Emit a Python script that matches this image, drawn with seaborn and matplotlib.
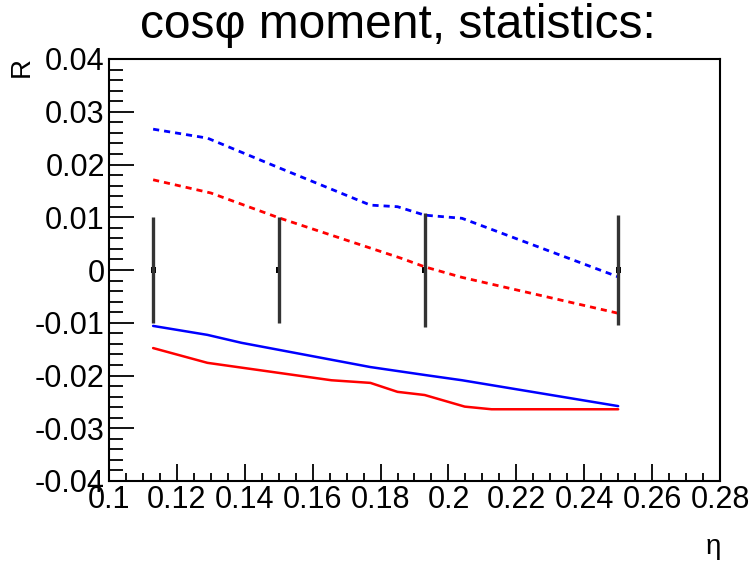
import numpy as np
import pandas as pd
import matplotlib
matplotlib.use("Agg")
import matplotlib.pyplot as plt
import seaborn as sns
from matplotlib.ticker import MultipleLocator, FixedLocator

sns.set_style("ticks")
plt.rcParams['font.family'] = ['Liberation Sans', 'DejaVu Sans']
plt.rcParams['text.color'] = 'black'
plt.rcParams['axes.labelcolor'] = 'black'

# data points with errors
pt_x = [0.113, 0.150, 0.193, 0.250]
pt_y = [0.0, 0.0, 0.0, 0.0]
pt_err = [0.010, 0.010, 0.0108, 0.0105]

# blue dashed (upper)
bd_x = [0.113, 0.129, 0.150, 0.177, 0.185, 0.193, 0.204, 0.250]
bd_y = [0.0267, 0.0250, 0.0194, 0.0123, 0.0120, 0.0104, 0.0098, -0.0013]
# red dashed (upper)
rd_x = [0.113, 0.130, 0.150, 0.1862, 0.193, 0.204, 0.250]
rd_y = [0.0171, 0.0146, 0.0099, 0.0022, 0.0006, -0.0014, -0.0082]
# blue solid (lower)
bs_x = [0.113, 0.129, 0.139, 0.177, 0.193, 0.204, 0.250]
bs_y = [-0.0106, -0.0123, -0.0138, -0.0184, -0.0199, -0.0209, -0.0258]
# red solid (lower)
rs_x = [0.113, 0.129, 0.1655, 0.177, 0.185, 0.193, 0.2048, 0.2127, 0.250]
rs_y = [-0.0148, -0.0176, -0.0209, -0.0214, -0.0231, -0.0237, -0.0259, -0.0264, -0.0264]

x_ticks = [0.1, 0.12, 0.14, 0.16, 0.18, 0.2, 0.22, 0.24, 0.26, 0.28]
x_ticklabels = ["0.1", "0.12", "0.14", "0.16", "0.18", "0.2", "0.22", "0.24", "0.26", "0.28"]
y_ticks = [-0.04, -0.03, -0.02, -0.01, 0, 0.01, 0.02, 0.03, 0.04]
y_ticklabels = ["-0.04", "-0.03", "-0.02", "-0.01", "0", "0.01", "0.02", "0.03", "0.04"]

fig = plt.figure(figsize=(7.54, 5.63), dpi=100)
ax = fig.add_axes([109/754, 1-481/563, (720-109)/754, (481-59)/563])

dash = (0, (2.2, 1.8))
sns.lineplot(x=bd_x, y=bd_y, ax=ax, color='#0000ff', lw=2.0, linestyle=dash, sort=False)
sns.lineplot(x=rd_x, y=rd_y, ax=ax, color='#ff0000', lw=2.0, linestyle=dash, sort=False)
sns.lineplot(x=bs_x, y=bs_y, ax=ax, color='#0000ff', lw=1.8, sort=False)
sns.lineplot(x=rs_x, y=rs_y, ax=ax, color='#ff0000', lw=1.8, sort=False)
ax.errorbar(pt_x, pt_y, yerr=pt_err, fmt='none', ecolor='#333333', elinewidth=2.4, capsize=0)
sns.scatterplot(x=pt_x, y=pt_y, ax=ax, color='black', s=14, marker='s', edgecolor='none')

ax.set_xlim(0.1, 0.28)
ax.set_ylim(-0.04, 0.04)
ax.xaxis.set_major_locator(FixedLocator(x_ticks))
ax.set_xticklabels(x_ticklabels)
ax.yaxis.set_major_locator(FixedLocator(y_ticks))
ax.set_yticklabels(y_ticklabels)
ax.xaxis.set_minor_locator(MultipleLocator(0.005))
ax.yaxis.set_minor_locator(MultipleLocator(0.002))
ax.tick_params(which='both', direction='in', top=False, right=False, labelsize=22,
               colors='black', labelcolor='black', pad=3, width=1.3)
ax.tick_params(axis='x', which='major', length=12)
ax.tick_params(axis='x', which='minor', length=6)
ax.tick_params(axis='y', which='major', length=18)
ax.tick_params(axis='y', which='minor', length=10)
for s in ax.spines.values():
    s.set_visible(True)
    s.set_linewidth(1.5)
    s.set_color('black')

fig.text(398/754, 1-25/563, "cosφ moment, statistics:", ha='center', va='center',
         fontsize=34.5, color='black')
fig.text(22/754, 1-67/563, "R", ha='center', va='center', rotation=90, fontsize=20, color='black')
fig.text(713/754, 1-547/563, "η", ha='center', va='center', fontsize=20, color='black')

fig.savefig("out.png", dpi=100)
